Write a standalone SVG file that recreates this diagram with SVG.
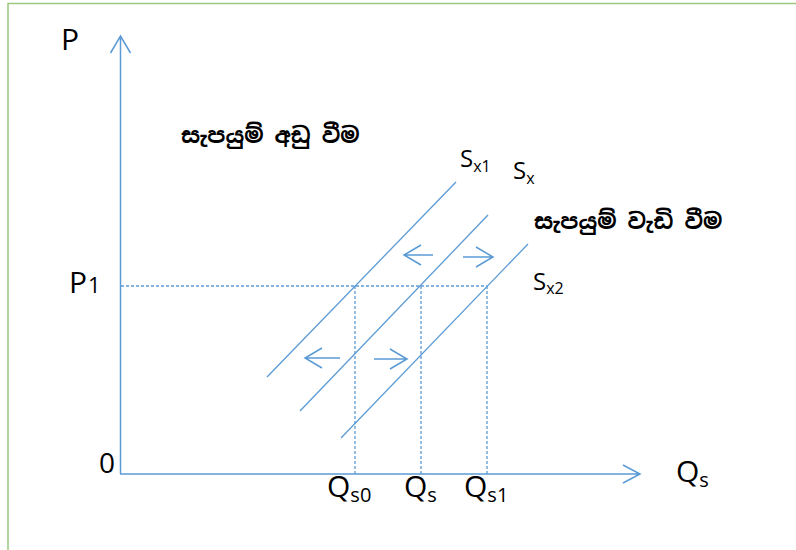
<svg xmlns="http://www.w3.org/2000/svg" width="796" height="550" viewBox="0 0 796 550">
<defs>
<style>
.ax{stroke:#5b9bd5;stroke-width:1.5;fill:none}
.sl{stroke:#5b9bd5;stroke-width:1.3;fill:none}
.dash{stroke:#5b9bd5;stroke-width:1.3;stroke-dasharray:3,2;fill:none}
.ar{stroke:#5b9bd5;stroke-width:1.5;fill:none}
.t{font-family:"Open Sans","Noto Sans","Liberation Sans",sans-serif;fill:#000}
.si{font-family:"Noto Sans Sinhala","Iskoola Pota","Noto Sans","Liberation Sans",sans-serif;font-weight:bold;font-size:22px;fill:#000}
</style>
</defs>
<rect x="0" y="0" width="796" height="550" fill="#fff"/>
<path d="M8 550 V3.5 H796" stroke="#9bc87f" stroke-width="1.5" fill="none"/>
<g id="axes">
<path class="ax" d="M120.5 474 V36 M110.5 53 L120.5 36 L130.5 53"/>
<path class="ax" d="M120 474 H640 M623 465 L640 474 L623 483"/>
</g>
<g id="connectors">
<path class="dash" d="M121 286 H487"/>
<path class="dash" d="M355 286 V474 M421 286 V474 M487 286 V474"/>
<path class="sl" d="M267 377 L456 182"/>
<path class="sl" d="M300 411 L488 215"/>
<path class="sl" d="M341 438 L528 244"/>
<path class="ar" d="M433 255 H404 M421 245 L404 255 L421 265"/>
<path class="ar" d="M463 257 H493 M476 247 L493 257 L476 267"/>
<path class="ar" d="M340 358 H305 M322 348 L305 358 L322 368"/>
<path class="ar" d="M374 359 H407 M390 349 L407 359 L390 369"/>
</g>
<g id="labels">
<text class="t" x="61" y="50" font-size="30">P</text>
<text class="t" x="99" y="473" font-size="28">0</text>
<text class="t" x="69" y="293" font-size="30">P<tspan font-size="22" dx="1">1</tspan></text>
<text class="t" x="676" y="482" font-size="30">Q<tspan font-size="20" dy="5">s</tspan></text>
<text class="t" x="327" y="497" font-size="30">Q<tspan font-size="20" dy="5">s0</tspan></text>
<text class="t" x="404" y="497" font-size="30">Q<tspan font-size="20" dy="5">s</tspan></text>
<text class="t" x="464" y="497" font-size="30">Q<tspan font-size="20" dy="5">s1</tspan></text>
<text class="t" x="460" y="167" font-size="24">S<tspan font-size="16" dy="5">x1</tspan></text>
<text class="t" x="513" y="179" font-size="24">S<tspan font-size="16" dy="5">x</tspan></text>
<text class="t" x="533" y="290" font-size="24">S<tspan font-size="16" dy="4">x2</tspan></text>
</g>
<g id="text-decrease"><text class="si" x="181" y="143">සැපයුම් අඩු වීම</text></g>
<g id="text-increase"><text class="si" x="534" y="229">සැපයුම් වැඩි වීම</text></g>
</svg>
